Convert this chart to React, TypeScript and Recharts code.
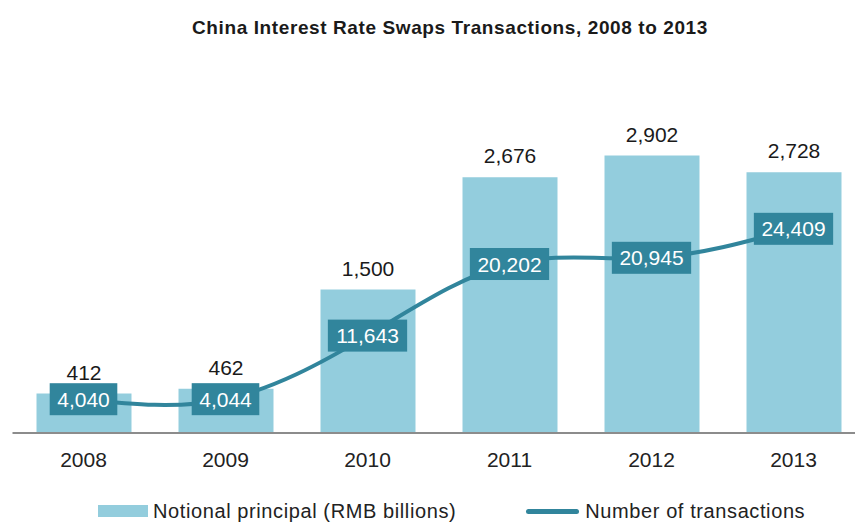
import { ComposedChart, Bar, Line, XAxis, YAxis, LabelList, Legend } from 'recharts'

const years = ['2008', '2009', '2010', '2011', '2012', '2013']
const notional = [412, 462, 1500, 2676, 2902, 2728]
const transactions = [4040, 4044, 11643, 20202, 20945, 24409]

const data = years.map((year, i) => ({
  year,
  notional: notional[i],
  transactions: transactions[i],
}))

const BAR_COLOR = '#93CDDD'
const LINE_COLOR = '#31859C'
const FONT = '"Liberation Sans", Arial, sans-serif'

const fmt = (v: number) => v.toLocaleString('en-US')

function LineLabel(props: any) {
  const { x, y, value } = props
  const text = fmt(Number(value))
  const digits = text.replace(/,/g, '').length
  const commas = text.length - digits
  const w = digits * 11.7 + commas * 5.8 + 15
  const h = 32
  return (
    <g>
      <rect x={x - w / 2} y={y - h / 2} width={w} height={h} fill={LINE_COLOR} />
      <text
        x={x}
        y={y}
        dy="0.36em"
        textAnchor="middle"
        fill="#ffffff"
        fontSize={21}
        fontFamily={FONT}
      >
        {text}
      </text>
    </g>
  )
}

function LegendContent() {
  return (
    <div
      style={{
        height: 28,
        display: 'flex',
        alignItems: 'center',
        paddingLeft: 98,
        fontFamily: FONT,
        fontSize: 20,
        letterSpacing: 0.6,
        color: '#222',
        whiteSpace: 'nowrap',
      }}
    >
      <span style={{ display: 'inline-block', width: 50, height: 12, background: BAR_COLOR, marginRight: 5 }} />
      <span>Notional principal (RMB billions)</span>
      <span
        style={{
          display: 'inline-block',
          width: 53,
          height: 5,
          borderRadius: 3,
          background: LINE_COLOR,
          marginLeft: 70,
          marginRight: 6,
        }}
      />
      <span>Number of transactions</span>
    </div>
  )
}

export default function App() {
  return (
    <div
      style={{
        position: 'fixed',
        top: 0,
        left: 0,
        width: 855,
        height: 525,
        overflow: 'hidden',
        background: '#fff',
        fontFamily: FONT,
      }}
    >
      <div
        style={{
          position: 'absolute',
          top: 17,
          left: 0,
          width: 900,
          textAlign: 'center',
          fontSize: 19,
          lineHeight: '22px',
          letterSpacing: 0.6,
          fontWeight: 'bold',
          color: '#1a1a1a',
          whiteSpace: 'nowrap',
        }}
      >
        China Interest Rate Swaps Transactions, 2008 to 2013
      </div>
      <ComposedChart
        width={870}
        height={525}
        data={data}
        margin={{ top: 98.4, right: 5.5, left: 12.5, bottom: 0 }}
      >
        <XAxis
          dataKey="year"
          height={64}
          tickLine={false}
          tickMargin={13}
          axisLine={{ stroke: '#8c8c8c', strokeWidth: 2 }}
          tick={{ fill: '#222', fontSize: 21, fontFamily: FONT }}
        />
        <YAxis yAxisId="left" domain={[0, 3500]} hide />
        <YAxis yAxisId="right" orientation="right" domain={[0, 40000]} hide />
        <Bar
          yAxisId="left"
          dataKey="notional"
          fill={BAR_COLOR}
          barSize={95}
          isAnimationActive={false}
        >
          <LabelList
            dataKey="notional"
            position="top"
            offset={14}
            formatter={(v: any) => fmt(Number(v))}
            style={{ fill: '#1a1a1a', fontSize: 21, fontFamily: FONT }}
          />
        </Bar>
        <Line
          yAxisId="right"
          type="natural"
          dataKey="transactions"
          stroke={LINE_COLOR}
          strokeWidth={4}
          dot={false}
          isAnimationActive={false}
        >
          <LabelList dataKey="transactions" content={<LineLabel />} />
        </Line>
        <Legend
          verticalAlign="bottom"
          content={<LegendContent />}
          wrapperStyle={{ left: 0, width: 855, bottom: 0, height: 28 }}
        />
      </ComposedChart>
    </div>
  )
}
